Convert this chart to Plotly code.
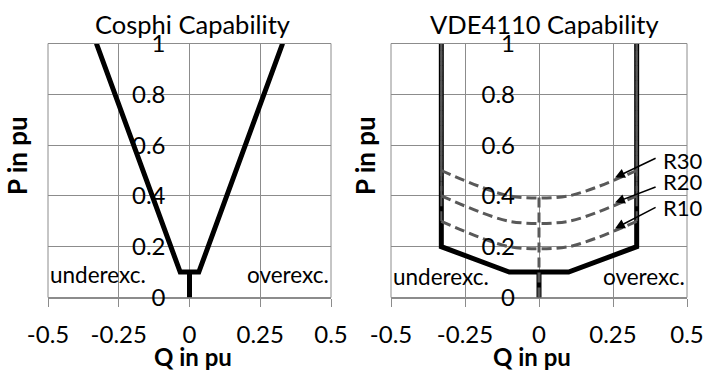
import plotly.graph_objects as go

# ---- data ----
x_ticks = [-0.5, -0.25, 0, 0.25, 0.5]
x_tick_text = ["-0.5", "-0.25", "0", "0.25", "0.5"]
y_ticks = [0, 0.2, 0.4, 0.6, 0.8, 1]
y_tick_text = ["0", "0.2", "0.4", "0.6", "0.8", "1"]

cos_q = [-0.329, -0.0329, 0.0329, 0.329]
cos_p = [1, 0.1, 0.1, 1]
stem_q = [0, 0]
stem_p = [0.1, 0]

vde_q = [-0.33, -0.33, -0.1, 0.1, 0.33, 0.33]
vde_p = [1, 0.2, 0.1, 0.1, 0.2, 1]

r_q = [-0.33, -0.1, 0.1, 0.33]
r10_p = [0.3, 0.2, 0.2, 0.3]
r20_p = [0.4, 0.3, 0.3, 0.4]
r30_p = [0.5, 0.4, 0.4, 0.5]
edge_q = [-0.33, -0.33, None, 0.33, 0.33]
zero_q = [0, 0]
zero_p = [0, 0.4]

# arrow annotations: label, tip (q, p), tail (q, p), label p
r_labels = ["R30", "R20", "R10"]
r_tip = [(0.257, 0.472), (0.257, 0.374), (0.257, 0.272)]
r_tail = [(0.399, 0.551), (0.399, 0.437), (0.399, 0.358)]
r_label_p = [0.541, 0.455, 0.356]

FONT = "Lato"
FS = 24
GRID = "#8c8c8c"
DASHC = "#595959"

fig = go.Figure()

# left chart
fig.add_trace(go.Scatter(x=cos_q, y=cos_p, mode="lines", line=dict(color="black", width=5),
                         xaxis="x", yaxis="y", showlegend=False))
fig.add_trace(go.Scatter(x=stem_q, y=stem_p, mode="lines", line=dict(color="black", width=5),
                         xaxis="x", yaxis="y", showlegend=False))

# right chart
fig.add_trace(go.Scatter(x=vde_q, y=vde_p, mode="lines", line=dict(color="black", width=5),
                         xaxis="x2", yaxis="y2", showlegend=False))
fig.add_trace(go.Scatter(x=stem_q, y=stem_p, mode="lines", line=dict(color="black", width=5),
                         xaxis="x2", yaxis="y2", showlegend=False))
for rp in (r10_p, r20_p, r30_p):
    fig.add_trace(go.Scatter(x=r_q, y=rp, mode="lines",
                             line=dict(color=DASHC, width=3, dash="10px,5px", shape="spline", smoothing=0.8),
                             xaxis="x2", yaxis="y2", showlegend=False))
for rp in (r10_p, r20_p, r30_p):
    fig.add_trace(go.Scatter(x=edge_q, y=[rp[0], 1, None, rp[-1], 1], mode="lines",
                             line=dict(color=DASHC, width=2, dash="10px,5px"),
                             xaxis="x2", yaxis="y2", showlegend=False))
fig.add_trace(go.Scatter(x=zero_q, y=zero_p, mode="lines",
                         line=dict(color=DASHC, width=3, dash="10px,5px"),
                         xaxis="x2", yaxis="y2", showlegend=False))

ydom = [1 - 297.5 / 370, 1 - 43.5 / 370]
xdom1 = [48 / 704, 331 / 704]
xdom2 = [391 / 704, 687 / 704]

xaxis_common = dict(range=[-0.5, 0.5], tickvals=x_ticks, ticktext=x_tick_text,
                    showgrid=True, gridcolor=GRID, gridwidth=1, zeroline=False,
                    showline=True, linecolor=GRID, linewidth=1, mirror=True,
                    ticks="outside", ticklen=8, tickcolor=GRID, tickwidth=1,
                    ticklabelstandoff=8, automargin=False,
                    tickfont=dict(family=FONT, size=FS, color="black"), fixedrange=True)
yaxis_common = dict(range=[0, 1], tickvals=y_ticks, ticktext=y_tick_text,
                    showgrid=True, gridcolor=GRID, gridwidth=1, zeroline=False,
                    showline=False, ticks="", ticklabelstandoff=24, anchor="free",
                    automargin=False,
                    tickfont=dict(family=FONT, size=FS, color="black"), fixedrange=True,
                    domain=ydom)

fig.update_layout(
    width=704, height=370, margin=dict(l=0, r=0, t=0, b=0, autoexpand=False),
    paper_bgcolor="white", plot_bgcolor="white",
    font=dict(family=FONT, size=FS, color="black"),
    xaxis=dict(domain=xdom1, anchor="y", **xaxis_common),
    yaxis=dict(position=189.5 / 704, **yaxis_common),
    xaxis2=dict(domain=xdom2, anchor="y2", **xaxis_common),
    yaxis2=dict(position=539 / 704, **yaxis_common),
)

for xr, yr in (("x", "y"), ("x2", "y2")):
    fig.add_shape(type="rect", xref=f"{xr} domain", yref=f"{yr} domain", x0=0, x1=1, y0=0, y1=1,
                  line=dict(color=GRID, width=1), layer="below")

ann = []
# titles
ann.append(dict(text="Cosphi Capability", x=192 / 704, y=1 - 24 / 370, xref="paper", yref="paper",
                showarrow=False, xanchor="center", yanchor="middle", font=dict(size=25.5)))
ann.append(dict(text="VDE4110 Capability", x=544 / 704, y=1 - 24 / 370, xref="paper", yref="paper",
                showarrow=False, xanchor="center", yanchor="middle", font=dict(size=25.5)))
# axis titles
for xc in (193, 532):
    ann.append(dict(text="<b>Q in pu</b>", x=xc / 704, y=1 - 356 / 370, xref="paper", yref="paper",
                    showarrow=False, xanchor="center", yanchor="middle", font=dict(size=FS)))
for xc in (17, 365):
    ann.append(dict(text="<b>P in pu</b>", x=xc / 704, y=1 - 156 / 370, xref="paper", yref="paper",
                    showarrow=False, xanchor="center", yanchor="middle", textangle=-90, font=dict(size=26)))
# region labels
for xr, yr, yv in (("x", "y", 0.089), ("x2", "y2", 0.081)):
    ann.append(dict(text="underexc.", x=-0.5, y=yv, xref=xr, yref=yr, showarrow=False,
                    xanchor="left", yanchor="middle", font=dict(size=22.5)))
    ann.append(dict(text="overexc.", x=0.5, y=yv, xref=xr, yref=yr, showarrow=False,
                    xanchor="right", yanchor="middle", font=dict(size=22.5)))
# R arrows
for lab, tip, tail, lp in zip(r_labels, r_tip, r_tail, r_label_p):
    ann.append(dict(text="", x=tip[0], y=tip[1], ax=tail[0], ay=tail[1], xref="x2", yref="y2",
                    axref="x2", ayref="y2", showarrow=True, arrowhead=2, arrowsize=1.3,
                    arrowwidth=1.5, arrowcolor="black"))
    ann.append(dict(text=lab, x=0.412, y=lp, xref="x2", yref="y2", showarrow=False,
                    xanchor="left", yanchor="middle", font=dict(size=22)))
fig.update_layout(annotations=ann)

fig.write_html("out.html")
